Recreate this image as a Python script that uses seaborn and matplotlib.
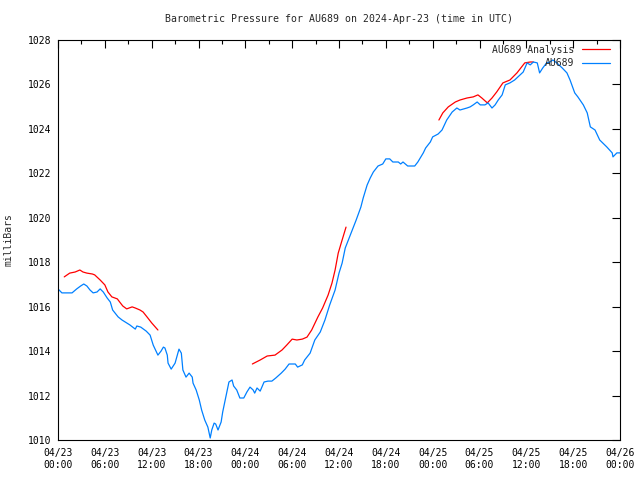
import numpy as np
import pandas as pd
import matplotlib
matplotlib.use("Agg")
import matplotlib.pyplot as plt
import seaborn as sns
from matplotlib.ticker import MultipleLocator

# hours since 2024-04-23 00:00 UTC, pressure in millibars

# ── observed station pressure (AU689) ────────────────────────────────────────
obs_hours = [0.0, 0.5, 1.8, 2.4, 2.9, 3.3, 3.7, 4.1, 4.5, 5.0, 5.4, 5.8, 6.3, 6.7,
             7.0, 7.7, 8.2, 8.6, 9.2, 9.9, 10.1, 10.6, 11.3, 11.8, 12.2, 12.8, 13.2,
             13.5, 13.7, 14.0, 14.1, 14.5, 15.0, 15.5, 15.8, 16.0, 16.4, 16.8, 17.2,
             17.3, 17.7, 18.1, 18.4, 18.8, 19.2, 19.5, 19.7, 20.0, 20.2, 20.5, 20.9,
             21.1, 21.5, 21.9, 22.3, 22.5, 22.9, 23.3, 23.8, 24.2, 24.6, 25.0, 25.2,
             25.5, 25.9, 26.4, 26.9, 27.4, 27.9, 28.6, 29.1, 29.6, 30.4, 30.7, 31.3,
             31.6, 32.3, 32.9, 33.6, 34.2, 34.8, 35.5, 36.0, 36.4, 36.8, 37.2, 37.7,
             38.2, 38.8, 39.1, 39.6, 40.0, 40.4, 41.0, 41.6, 42.0, 42.5, 42.9, 43.6,
             43.9, 44.2, 44.8, 45.7, 46.1, 46.8, 47.1, 47.7, 48.0, 48.7, 49.2, 49.8,
             50.5, 51.1, 51.5, 52.4, 52.8, 53.2, 53.7, 54.1, 54.7, 55.1, 55.6, 56.0,
             56.4, 56.9, 57.3, 57.9, 58.5, 59.2, 59.6, 60.1, 60.5, 60.9, 61.4, 61.7,
             62.1, 62.6, 63.0, 63.4, 63.9, 64.6, 65.2, 65.6, 66.2, 66.6, 67.3, 67.8,
             68.2, 68.8, 69.4, 70.3, 71.0, 71.1, 71.6, 72.0]
obs_mbar = [1016.80, 1016.62, 1016.62, 1016.80, 1016.93, 1017.02, 1016.93, 1016.75,
            1016.62, 1016.66, 1016.80, 1016.66, 1016.39, 1016.21, 1015.85, 1015.54,
            1015.40, 1015.31, 1015.18, 1014.99, 1015.13, 1015.08, 1014.90, 1014.72,
            1014.27, 1013.82, 1014.00, 1014.18, 1014.14, 1013.82, 1013.46, 1013.19,
            1013.46, 1014.09, 1013.91, 1013.15, 1012.83, 1013.01, 1012.83, 1012.56,
            1012.25, 1011.80, 1011.35, 1010.90, 1010.58, 1010.09, 1010.45, 1010.76,
            1010.72, 1010.45, 1010.81, 1011.26, 1011.93, 1012.61, 1012.70, 1012.43,
            1012.25, 1011.89, 1011.89, 1012.16, 1012.38, 1012.25, 1012.11, 1012.34,
            1012.20, 1012.61, 1012.65, 1012.65, 1012.79, 1013.01, 1013.19, 1013.42,
            1013.42, 1013.28, 1013.38, 1013.60, 1013.91, 1014.50, 1014.86, 1015.40,
            1016.07, 1016.75, 1017.51, 1017.96, 1018.64, 1019.00, 1019.45, 1019.90,
            1020.48, 1020.89, 1021.47, 1021.79, 1022.06, 1022.33, 1022.42, 1022.65,
            1022.65, 1022.51, 1022.51, 1022.42, 1022.51, 1022.33, 1022.33, 1022.51,
            1022.92, 1023.14, 1023.41, 1023.64, 1023.77, 1023.95, 1024.40, 1024.76,
            1024.94, 1024.85, 1024.94, 1024.99, 1025.08, 1025.21, 1025.08, 1025.08,
            1025.17, 1024.94, 1025.08, 1025.30, 1025.53, 1025.98, 1026.07, 1026.20,
            1026.43, 1026.56, 1026.97, 1026.88, 1027.01, 1026.97, 1026.52, 1026.74,
            1026.97, 1027.01, 1027.10, 1026.97, 1026.74, 1026.52, 1026.20, 1025.62,
            1025.44, 1025.08, 1024.72, 1024.09, 1023.95, 1023.50, 1023.19, 1022.92,
            1022.74, 1022.92, 1022.92]

# ── analysis pressure, three separate runs ───────────────────────────────────
ana1_hours = [0.8, 1.5, 2.2, 2.8, 3.2, 3.7, 4.4, 4.7, 5.4, 6.0, 6.4, 6.9, 7.6, 7.9,
              8.3, 8.8, 9.5, 9.9, 10.5, 10.9, 11.4, 12.0, 12.8]
ana1_mbar = [1017.34, 1017.51, 1017.56, 1017.65, 1017.56, 1017.51, 1017.47, 1017.43,
             1017.20, 1016.98, 1016.66, 1016.44, 1016.35, 1016.21, 1016.03, 1015.90,
             1015.99, 1015.94, 1015.85, 1015.76, 1015.54, 1015.27, 1014.95]
ana2_hours = [24.9, 25.9, 26.8, 27.8, 28.7, 29.3, 30.0, 30.6, 31.3, 31.9, 32.5, 33.3,
              33.9, 34.6, 35.1, 35.5, 35.9, 36.4, 36.9]
ana2_mbar = [1013.42, 1013.60, 1013.78, 1013.82, 1014.05, 1014.27, 1014.54, 1014.50,
             1014.54, 1014.63, 1014.95, 1015.54, 1015.94, 1016.52, 1017.06, 1017.65,
             1018.41, 1019.00, 1019.58]
ana3_hours = [48.8, 49.3, 50.0, 50.9, 51.5, 52.4, 53.2, 53.8, 54.3, 55.0, 55.6, 56.2,
              57.0, 57.9, 58.8, 59.4, 59.8, 60.5, 60.9]
ana3_mbar = [1024.40, 1024.72, 1024.99, 1025.21, 1025.30, 1025.39, 1025.44, 1025.53,
             1025.39, 1025.17, 1025.39, 1025.66, 1026.07, 1026.20, 1026.52, 1026.79,
             1026.97, 1027.01, 1027.01]

tick_hours = list(range(0, 73, 6))
tick_labels = ["04/23\n00:00", "04/23\n06:00", "04/23\n12:00", "04/23\n18:00",
               "04/24\n00:00", "04/24\n06:00", "04/24\n12:00", "04/24\n18:00",
               "04/25\n00:00", "04/25\n06:00", "04/25\n12:00", "04/25\n18:00",
               "04/26\n00:00"]

sns.set_style("white")
plt.rcParams["font.family"] = ["DejaVu Sans Mono"]
plt.rcParams["font.size"] = 7.0

fig = plt.figure(figsize=(6.4, 4.8), dpi=100)
ax = fig.add_axes([58 / 640, 40 / 480, 562 / 640, 400 / 480])

red = "#ff0000"
blue = "#0080ff"

segments = [(ana1_hours, ana1_mbar), (ana2_hours, ana2_mbar), (ana3_hours, ana3_mbar)]
for i, (h, p) in enumerate(segments):
    sns.lineplot(x=h, y=p, ax=ax, color=red, linewidth=0.9,
                 label="AU689 Analysis" if i == 0 else None)
sns.lineplot(x=obs_hours, y=obs_mbar, ax=ax, color=blue, linewidth=0.9, label="AU689")

ax.set_xlim(0, 72)
ax.set_ylim(1010, 1028)
ax.set_xticks(tick_hours)
ax.set_xticklabels(tick_labels)
ax.xaxis.set_minor_locator(MultipleLocator(3))
ax.yaxis.set_major_locator(MultipleLocator(2))
ax.tick_params(which="both", direction="in", top=True, right=True, colors="black")
ax.tick_params(which="major", length=6, width=0.8)
ax.tick_params(which="minor", length=3, width=0.8)
ax.tick_params(axis="x", pad=6)
ax.tick_params(axis="y", pad=5)

for s in ax.spines.values():
    s.set_visible(True)
    s.set_color("black")
    s.set_linewidth(0.8)

ax.set_ylabel("milliBars", labelpad=10)
ax.set_xlabel("")
ax.set_title("Barometric Pressure for AU689 on 2024-Apr-23 (time in UTC)",
             fontsize=7.15, pad=13)

ax.legend(loc="upper right", bbox_to_anchor=(0.9879, 0.9955), frameon=False,
          markerfirst=False, handlelength=2.9, borderaxespad=0.0, borderpad=0.3,
          labelspacing=0.35, handletextpad=0.8)

fig.savefig("out.png", dpi=100)
